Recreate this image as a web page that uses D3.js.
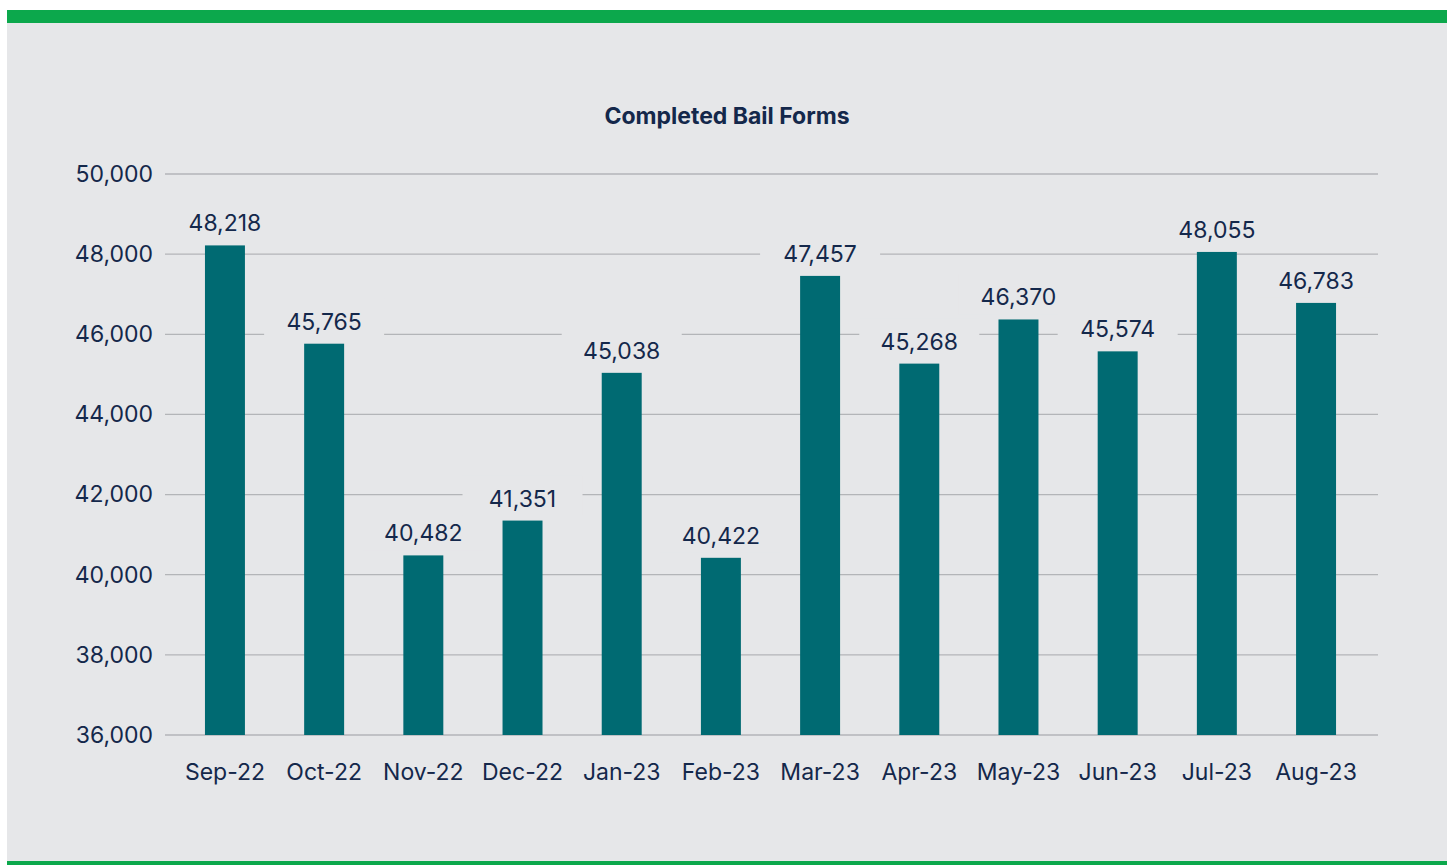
<!DOCTYPE html>
<html>
<head>
<meta charset="utf-8">
<style>
  body { margin: 0; background: #ffffff; }
  svg { display: block; }
</style>
</head>
<body>
<svg></svg>
<script src="https://cdn.jsdelivr.net/npm/d3@7"></script>
<script>
  const months = ["Sep-22", "Oct-22", "Nov-22", "Dec-22", "Jan-23", "Feb-23",
                  "Mar-23", "Apr-23", "May-23", "Jun-23", "Jul-23", "Aug-23"];
  const forms = [48218, 45765, 40482, 41351, 45038, 40422,
                 47457, 45268, 46370, 45574, 48055, 46783];
  const yTicks = [36000, 38000, 40000, 42000, 44000, 46000, 48000, 50000];

  const W = 1450, H = 865;
  const bg = "#e6e7e9", navy = "#14284b", teal = "#006a72", green = "#0ca84c";
  const font = "Inter, 'Noto Sans', sans-serif";

  let svg = d3.select("svg").attr("width", W).attr("height", H);

  // panel + green borders
  svg.append("rect").attr("x", 7).attr("y", 10).attr("width", 1440).attr("height", 852).attr("fill", bg);
  svg.append("rect").attr("x", 7).attr("y", 10).attr("width", 1440).attr("height", 13).attr("fill", green);
  svg.append("rect").attr("x", 7).attr("y", 861).attr("width", 1440).attr("height", 4).attr("fill", green);

  svg.append("text")
    .attr("x", 727).attr("y", 124)
    .attr("text-anchor", "middle")
    .style("font-family", font).style("font-weight", "bold")
    .style("font-size", "23px").attr("fill", navy)
    .text("Completed Bail Forms");

  let x = d3.scaleBand().domain(months).range([175.4, 1365.6]).paddingInner(0.597).paddingOuter(0.298);
  let y = d3.scaleLinear().domain([36000, 50000]).range([735, 174]);

  // gridlines
  svg.append("g").selectAll("line").data(yTicks).enter().append("line")
    .attr("x1", 165).attr("x2", 1378)
    .attr("y1", d => y(d)).attr("y2", d => y(d))
    .attr("stroke", "#b3b5b8").attr("stroke-width", 1.3);

  // y axis labels
  let yAxis = d3.axisLeft(y).tickValues(yTicks).tickSize(0).tickPadding(0).tickFormat(d3.format(","));
  let ya = svg.append("g").attr("transform", "translate(153,0)").call(yAxis);
  ya.select(".domain").remove();
  ya.selectAll("text").style("font-family", font).style("font-size", "23px").attr("fill", navy);

  // x axis labels
  let xAxis = d3.axisBottom(x).tickSize(0).tickPadding(0);
  let xa = svg.append("g").attr("transform", "translate(0,764)").call(xAxis);
  xa.select(".domain").remove();
  xa.selectAll("text").style("font-family", font).style("font-size", "23px").attr("fill", navy);

  // bars
  svg.append("g").selectAll("rect").data(forms).enter().append("rect")
    .attr("x", (d, i) => x(months[i]))
    .attr("width", x.bandwidth())
    .attr("y", d => y(d))
    .attr("height", d => y(36000) - y(d))
    .attr("fill", teal);

  // value labels with background boxes
  let lab = svg.append("g").selectAll("g").data(forms).enter().append("g")
    .attr("transform", (d, i) => "translate(" + (x(months[i]) + x.bandwidth() / 2) + "," + (y(d) - 14) + ")");
  lab.append("rect")
    .attr("x", -60).attr("y", -31).attr("width", 120).attr("height", 40)
    .attr("fill", bg);
  lab.append("text")
    .attr("text-anchor", "middle")
    .style("font-family", font).style("font-size", "23px").attr("fill", navy)
    .text(d => d3.format(",")(d));
</script>
</body>
</html>
